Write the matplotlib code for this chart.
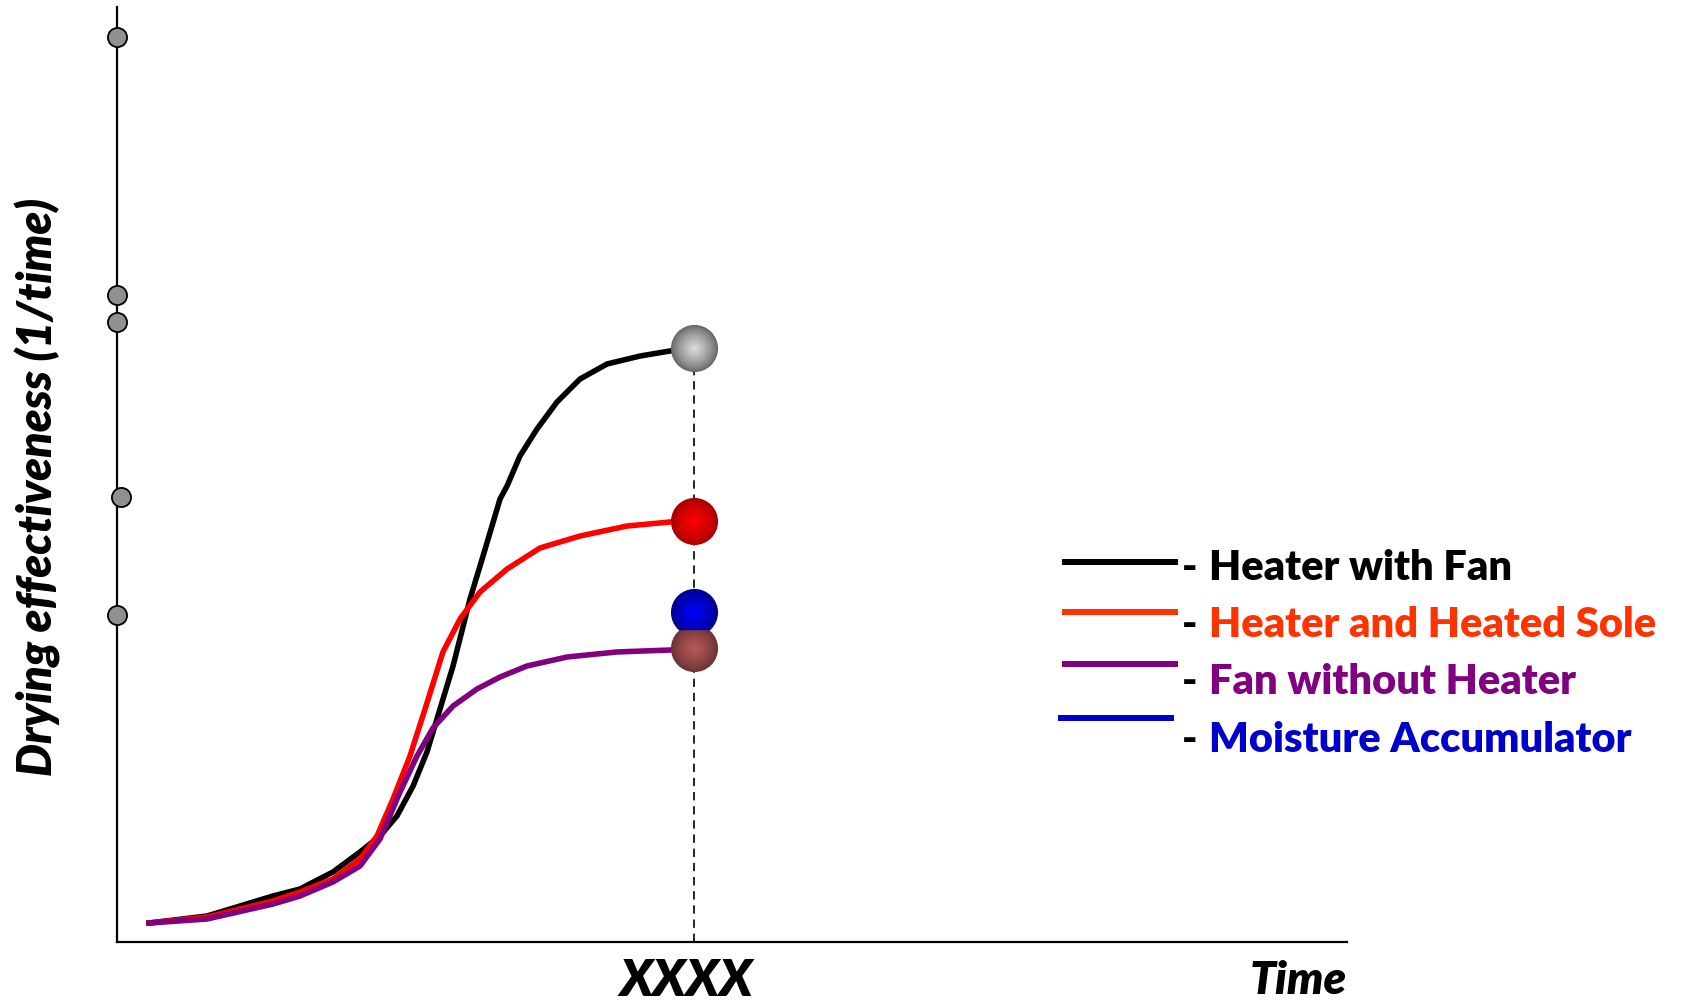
import numpy as np
import matplotlib
matplotlib.use("Agg")
import matplotlib.pyplot as plt
from matplotlib.colors import to_rgb

plt.rcParams['font.family'] = ['Lato', 'DejaVu Sans']

# curves (time, effectiveness)
t_black = [0.260, 0.732, 1.268, 1.488, 1.756, 1.976, 2.138, 2.276, 2.407, 2.520, 2.626,
           2.732, 2.870, 2.976, 3.114, 3.171, 3.276, 3.415, 3.577, 3.764, 3.984, 4.252,
           4.496, 4.691]
v_black = [0.203, 0.278, 0.492, 0.567, 0.749, 0.963, 1.134, 1.348, 1.668, 2.032, 2.492,
           2.952, 3.668, 4.128, 4.738, 4.877, 5.198, 5.487, 5.775, 6.021, 6.182, 6.267,
           6.321, 6.353]

t_red = [0.260, 0.732, 1.268, 1.488, 1.756, 1.976, 2.114, 2.244, 2.382, 2.520, 2.650,
         2.789, 2.951, 3.171, 3.439, 3.764, 4.146, 4.496, 4.691]
v_red = [0.203, 0.267, 0.439, 0.535, 0.674, 0.888, 1.134, 1.529, 1.989, 2.556, 3.102,
         3.455, 3.743, 3.989, 4.214, 4.342, 4.449, 4.492, 4.503]

t_purple = [0.260, 0.732, 1.268, 1.488, 1.756, 1.976, 2.138, 2.301, 2.439, 2.569, 2.732,
            2.927, 3.114, 3.333, 3.659, 4.065, 4.496, 4.691]
v_purple = [0.203, 0.246, 0.406, 0.492, 0.642, 0.813, 1.102, 1.604, 1.989, 2.289, 2.524,
            2.706, 2.834, 2.952, 3.048, 3.102, 3.123, 3.144]

# end markers at XXXX
t_end = 4.69
v_end = [6.35, 4.50, 3.53, 3.14]
end_edge = ['#666666', '#a80000', '#00008a', '#6a3232']
end_center = ['#dcdcdc', '#ff0000', '#0000ff', '#b85a5a']

# small dots on the y axis
dot_t = [0.0, 0.0, 0.0, 0.03, 0.0]
dot_v = [9.68, 6.92, 6.63, 4.76, 3.50]

labels = ['Heater with Fan', 'Heater and Heated Sole', 'Fan without Heater', 'Moisture Accumulator']
label_colors = ['#000000', '#ff3300', '#800080', '#0000cc']

fig = plt.figure(figsize=(16.9, 10.03), dpi=100)
ax = fig.add_axes([117/1690, 60/1003, 1230/1690, 935/1003])
ax.set_xlim(0, 10)
ax.set_ylim(0, 10)
for s in ['top', 'right']:
    ax.spines[s].set_visible(False)
for s in ['left', 'bottom']:
    ax.spines[s].set_linewidth(1.6)
ax.set_yticks([])
ax.set_xticks([])

ax.plot([t_end, t_end], [0, v_end[0]], color='black', lw=1.2, ls=(0, (5, 3.5)), zorder=1)

ax.plot(t_black, v_black, color='black', lw=4, solid_joinstyle='round', zorder=2)
ax.plot(t_red, v_red, color='#ff0000', lw=4, solid_joinstyle='round', zorder=3)
ax.plot(t_purple, v_purple, color='#800080', lw=4, solid_joinstyle='round', zorder=4)

# shaded spheres: stack of shrinking discs
n = 25
for v, ce, cc in zip(v_end, end_edge, end_center):
    e = np.array(to_rgb(ce))
    c = np.array(to_rgb(cc))
    for k in range(n):
        f = k / (n - 1)
        col = e + (c - e) * f ** 0.8
        size = 1150 * (1 - f * 0.97) ** 2
        ax.scatter([t_end], [v], s=size, color=col, lw=0, zorder=5 + 0.01 * k, clip_on=False)

ax.scatter(dot_t, dot_v, s=190, color='#909090', edgecolor='black', lw=1.3, zorder=6, clip_on=False)

ax.text(4.63, -0.041, 'XXXX', transform=ax.get_xaxis_transform(), ha='center', va='center',
        fontsize=37, fontweight='heavy', fontstyle='italic')
ax.text(1.0, -0.041, 'Time', transform=ax.transAxes, ha='right', va='center',
        fontsize=33, fontweight='heavy', fontstyle='italic')
fig.text(38/1690, 1 - 487/1003, 'Drying effectiveness (1/time)', rotation=90,
         ha='center', va='center', fontsize=33.5, fontweight='heavy', fontstyle='italic')

# hand-made legend
line_y = [563, 613, 665, 719]
line_x0 = [1062, 1062, 1062, 1058]
text_y = [568, 625, 682, 740]
for i in range(4):
    y = 1 - line_y[i] / 1003
    fig.add_artist(plt.Line2D([line_x0[i] / 1690, (line_x0[i] + 116) / 1690], [y, y],
                              color=label_colors[i], lw=4.3, solid_capstyle='butt'))
    ty = 1 - text_y[i] / 1003
    fig.text(1182 / 1690, ty, '-', ha='left', va='center', fontsize=30, fontweight='heavy')
    fig.text(1209 / 1690, ty, labels[i], ha='left', va='center', fontsize=30,
             fontweight='heavy', color=label_colors[i])

fig.savefig('out.png', dpi=100)
